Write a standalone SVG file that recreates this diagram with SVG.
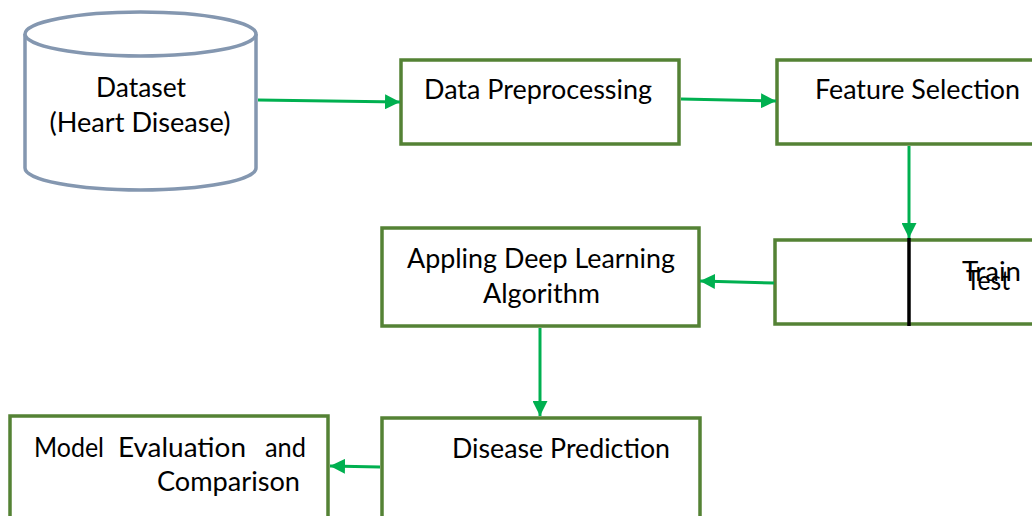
<svg xmlns="http://www.w3.org/2000/svg" width="1032" height="516" viewBox="0 0 1032 516">
<defs>
<style>
.box{fill:#fff;stroke:#548235;stroke-width:3.5}
.cyl{fill:#fff;stroke:#8497b0;stroke-width:3.5}
.t{font-family:Lato,"Liberation Sans",sans-serif;font-size:27px;fill:#000}
.c{stroke:#00b050;stroke-width:3;fill:none;marker-end:url(#ah)}
</style>
<marker id="ah" viewBox="0 0 10 10" refX="10" refY="5" markerWidth="5" markerHeight="5" orient="auto" markerUnits="strokeWidth">
<path d="M0,0 L10,5 L0,10 z" fill="#00b050"/>
</marker>
</defs>
<rect width="1032" height="516" fill="#fff"/>
<g id="dataset">
<path class="cyl" d="M25,34 L25,168 A115.5,22 0 0 0 256,168 L256,34"/>
<ellipse class="cyl" cx="140.5" cy="34" rx="115.5" ry="22"/>
<text class="t" x="141" y="97" text-anchor="middle" textLength="90" lengthAdjust="spacingAndGlyphs">Dataset</text>
<text class="t" x="140" y="132" text-anchor="middle" textLength="181" lengthAdjust="spacingAndGlyphs">(Heart Disease)</text>
</g>
<g id="preprocessing">
<rect class="box" x="401" y="60" width="278" height="84"/>
<text class="t" x="424" y="99" textLength="228" lengthAdjust="spacingAndGlyphs">Data Preprocessing</text>
</g>
<g id="feature">
<rect class="box" x="777" y="60" width="270" height="84"/>
<text class="t" x="815" y="99" textLength="205" lengthAdjust="spacingAndGlyphs">Feature Selection</text>
</g>
<g id="split">
<rect class="box" x="775" y="240" width="272" height="84"/>
<line x1="909" y1="238" x2="909" y2="326" stroke="#000" stroke-width="3.5"/>
<text class="t" x="962" y="281" textLength="59" lengthAdjust="spacingAndGlyphs">Train</text>
<text class="t" x="966" y="290" textLength="44" lengthAdjust="spacingAndGlyphs">Test</text>
</g>
<g id="deeplearning">
<rect class="box" x="382" y="228" width="317" height="98"/>
<text class="t" x="407" y="268" textLength="268" lengthAdjust="spacingAndGlyphs">Appling Deep Learning</text>
<text class="t" x="483" y="303" textLength="117" lengthAdjust="spacingAndGlyphs">Algorithm</text>
</g>
<g id="prediction">
<rect class="box" x="382" y="418" width="318" height="110"/>
<text class="t" x="452" y="458" textLength="218" lengthAdjust="spacingAndGlyphs">Disease Prediction</text>
</g>
<g id="evaluation">
<rect class="box" x="10" y="416" width="318" height="112"/>
<text class="t" y="457"><tspan x="34" textLength="70" lengthAdjust="spacingAndGlyphs">Model</tspan> <tspan x="118" textLength="128" lengthAdjust="spacingAndGlyphs">Evaluation</tspan> <tspan x="265" textLength="41" lengthAdjust="spacingAndGlyphs">and</tspan></text>
<text class="t" x="157" y="491" textLength="143" lengthAdjust="spacingAndGlyphs">Comparison</text>
</g>
<g id="connectors">
<line class="c" x1="258" y1="100" x2="400" y2="102"/>
<line class="c" x1="681" y1="99" x2="776" y2="101"/>
<line class="c" x1="909" y1="146" x2="909" y2="238"/>
<line class="c" x1="774" y1="283" x2="700" y2="281"/>
<line class="c" x1="540" y1="328" x2="540" y2="416"/>
<line class="c" x1="380" y1="467" x2="330" y2="466"/>
</g>
</svg>
